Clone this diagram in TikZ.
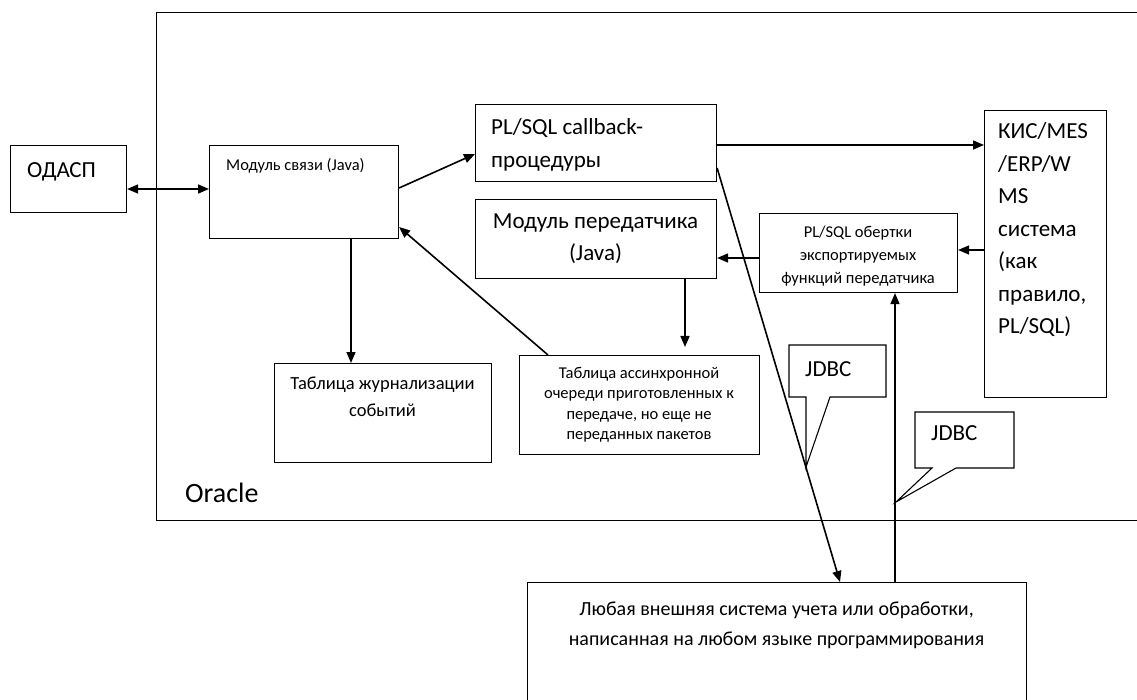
\documentclass[tikz,border=0pt]{standalone}
\usepackage{fontspec}
\setmainfont{Carlito}
\usetikzlibrary{arrows.meta,calc}
\tikzset{
  box/.style={draw=black, line width=1.1pt, rectangle, inner sep=0pt, anchor=north west},
  conn/.style={draw=black, line width=1.6pt},
  arr/.style={conn, -{Triangle[length=11pt,width=9pt]}},
  darr/.style={conn, {Triangle[length=11pt,width=9pt]}-{Triangle[length=11pt,width=9pt]}},
  big/.style={font=\fontsize{23}{32.5}\selectfont, inner sep=0pt},
  small/.style={font=\fontsize{16.5}{23}\selectfont, inner sep=0pt},
  tab/.style={font=\fontsize{16.5}{20.5}\selectfont, inner sep=0pt},
}
\begin{document}
\begin{tikzpicture}[x=1pt,y=-1pt]
\useasboundingbox (0,0) rectangle (1137,700);
\clip (0,0) rectangle (1137,700);
\fill[white] (0,0) rectangle (1137,700);
% Oracle container
\node[box, minimum width=1100pt, minimum height=508pt] (oracle) at (156,12) {};
\node[font=\fontsize{28}{30}\selectfont, inner sep=0pt, anchor=base west] (oracleT) at (185,502) {Oracle};
% boxes
\node[box, minimum width=116pt, minimum height=67pt] (odasp) at (10,145) {};
\node[big, anchor=base west] (odaspT) at (27,178) {ОДАСП};
\node[box, minimum width=189pt, minimum height=93pt] (mod) at (209,145) {};
\node[small, anchor=base west] (modT) at (226,171) {Модуль связи (Java)};
\node[box, minimum width=241pt, minimum height=77pt] (cb) at (475,104) {};
\node[big, anchor=west, align=left] (cbT) at (491,145) {PL/SQL callback-\\процедуры};
\node[box, minimum width=241pt, minimum height=79pt] (per) at (475,199) {};
\node[big, align=center] (perT) at (595.5,238.5) {Модуль передатчика\\(Java)};
\node[box, minimum width=198pt, minimum height=79pt] (obr) at (759,213) {};
\node[small, align=center] (obrT) at (858,256) {PL/SQL обертки\\экспортируемых\\функций передатчика};
\node[box, minimum width=122pt, minimum height=287pt] (kis) at (984,110) {};
\node[big, anchor=west, align=left] (kisT) at (998,230) {КИС/MES\\/ERP/W\\MS\\система\\(как\\правило,\\PL/SQL)};
\node[box, minimum width=217pt, minimum height=99pt] (jour) at (274,363) {};
\node[tab, align=center, font=\fontsize{18.5}{27}\selectfont] (jourT) at (382.5,396.5) {Таблица журнализации\\событий};
\node[box, minimum width=240pt, minimum height=99pt] (asy) at (519,355) {};
\node[tab, align=center] (asyT) at (639,404.5) {Таблица ассинхронной\\очереди приготовленных к\\передаче, но еще не\\переданных пакетов};
\node[box, minimum width=499pt, minimum height=200pt] (ext) at (527,582) {};
\node[tab, align=center, font=\fontsize{20}{30}\selectfont] (extT) at (776.5,625) {Любая внешняя система учета или обработки,\\написанная на любом языке программирования};
% JDBC callouts
\draw[line width=1.1pt] (789,345) -- (886,345) -- (886,397) -- (830,397) -- (806,467) -- (806,397) -- (789,397) -- cycle;
\node[big, anchor=base west] (jdbc1) at (805,376) {JDBC};
\draw[line width=1.1pt] (915,412) -- (1014,412) -- (1014,468) -- (956,468) -- (896,502) -- (932,468) -- (915,468) -- cycle;
\node[big, anchor=base west] (jdbc2) at (931,440) {JDBC};
% connectors
\draw[darr] (odasp.east |- 0,189) -- (mod.west |- 0,189);
\draw[arr] (mod.east |- 0,188) -- (cb.west |- 0,154);
\draw[arr] (cb.east |- 0,145) -- (kis.west |- 0,145);
\draw[arr] (kis.west |- 0,250) -- (obr.east |- 0,250);
\draw[arr] (obr.west |- 0,258) -- (per.east |- 0,258);
\draw[arr, shorten >=8pt] (per.south -| 685,0) -- (asy.north -| 685,0);
\draw[arr] (asy.north -| 548,0) -- (mod.east |- 0,227);
\draw[arr] (mod.south -| 351,0) -- (jour.north -| 351,0);
\draw[arr] (cb.east |- 0,168) -- (ext.north -| 840,0);
\draw[arr] (ext.north -| 895,0) -- (obr.south -| 895,0);
\end{tikzpicture}
\end{document}
